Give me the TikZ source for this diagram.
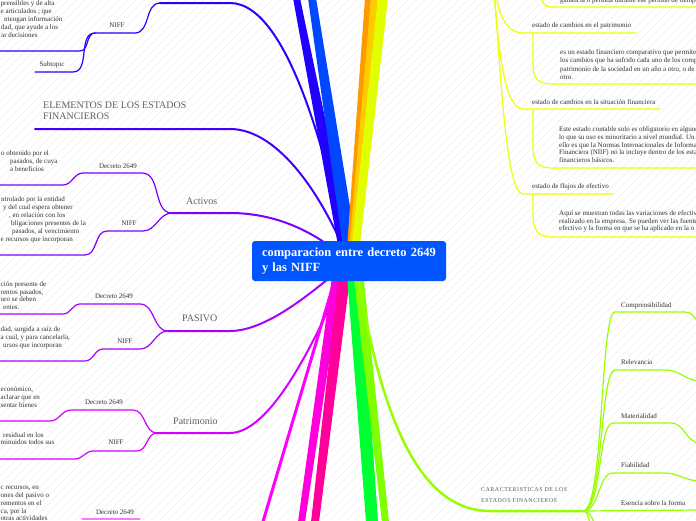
\documentclass[tikz,border=0pt]{standalone}
\usepackage{fontspec}
\setmainfont{Liberation Serif}
\definecolor{cbox}{HTML}{0055FF}
\definecolor{bDark}{HTML}{2200FF}
\definecolor{bBlue}{HTML}{0048FF}
\definecolor{bOrange}{HTML}{FF9900}
\definecolor{bGold}{HTML}{FFCC00}
\definecolor{bYellow}{HTML}{E1FF00}
\definecolor{bTop}{HTML}{2A00FF}
\definecolor{bElem}{HTML}{3F00FF}
\definecolor{bAct}{HTML}{7A00FF}
\definecolor{bPas}{HTML}{AA00FF}
\definecolor{bPat}{HTML}{D400FF}
\definecolor{bMag}{HTML}{FF00FF}
\definecolor{bMagB}{HTML}{FF00DD}
\definecolor{bPink}{HTML}{FF0099}
\definecolor{bGreen}{HTML}{00FF33}
\definecolor{bLime}{HTML}{7FFF00}
\definecolor{bCar}{HTML}{99FF00}
\definecolor{yel}{HTML}{EEFF00}
\definecolor{lpink}{HTML}{F080F8}
\begin{document}
\begin{tikzpicture}[x=1pt,y=-1pt,
  txt/.style={font=\fontsize{7}{8}\selectfont, text=black!80, inner sep=0pt, text height=4.8pt, text depth=1.4pt},
  frag/.style={txt, anchor=west},
  rtxt/.style={txt, anchor=west},
  lbl/.style={txt},
  topic/.style={font=\fontsize{10}{12}\selectfont, text=black!62, inner sep=0pt, anchor=west, text height=7pt, text depth=2pt},
  sub/.style={line width=1.2pt, line cap=round},
  mainln/.style={line width=2pt, line cap=round},
  hatch/.style={black!6, line width=0.5pt}
]
\useasboundingbox (0,0) rectangle (696,520);
\clip (0,0) rectangle (696,520);
\fill[white] (0,0) rectangle (696,520);
\foreach \i in {-520,-511.5,...,700} \draw[hatch] (\i,520) -- ++(520,-520);

\coordinate (hub) at (349,262);
\coordinate (carhub) at (583,511);

% ---------- left curved branches ----------
\coordinate (topL) at (160,3);
\draw[bTop, mainln] (topL) -- (230,3) .. controls (290,3) and (330,170) .. (hub);
\draw[bTop, sub] (topL) to[out=180,in=0] (135,33) -- (95,33) coordinate (nA0);
\draw[bTop, sub] (nA0) to[out=180,in=0] (80,51) -- (-2,51);
\draw[bTop, sub] (nA0) to[out=180,in=0] (73,72) -- (35,72);

\coordinate (elemL) at (35,129);
\draw[bElem, mainln] (elemL) -- (230,129) .. controls (280,129) and (325,200) .. (hub);

\coordinate (act) at (172,213);
\draw[bAct, mainln] (act) -- (230,213) .. controls (280,213) and (320,235) .. (hub);
\draw[bAct, sub] (act) to[out=180,in=0] (142,173) -- (83,173) to[out=180,in=0] (63,185) -- (-2,185);
\draw[bAct, sub] (act) to[out=180,in=0] (143,231) -- (107,231) to[out=180,in=0] (85,255) -- (-2,255);

\coordinate (pas) at (168,331);
\draw[bPas, mainln] (pas) -- (230,331) .. controls (270,331) and (320,285) .. (hub);
\draw[bPas, sub] (pas) to[out=180,in=0] (140,304) -- (80,304) to[out=180,in=0] (63,314) -- (-2,314);
\draw[bPas, sub] (pas) to[out=180,in=0] (140,349) -- (103,349) to[out=180,in=0] (85,361) -- (-2,361);

\coordinate (pat) at (157,433);
\draw[bPat, mainln] (pat) -- (230,433) .. controls (275,433) and (325,320) .. (hub);
\draw[bPat, sub] (pat) to[out=180,in=0] (133,410) -- (71,410) to[out=180,in=0] (50,421) -- (-2,421);
\draw[bPat, sub] (pat) to[out=180,in=0] (137,451) -- (93,451) to[out=180,in=0] (75,459) -- (-2,459);

\draw[lpink, sub] (82,519) -- (140,519);

% ---------- thick branches ----------
\fill[bDark] (293,-2) -- (300,-2) -- (355,262) -- (341,262) -- cycle;
\fill[bBlue] (308,-2) -- (316,-2) -- (359,262) -- (345,262) -- cycle;
\fill[bOrange] (365,-2) -- (371,-2) -- (352,262) -- (346,262) -- cycle;
\fill[bGold] (371,-2) -- (378,-2) -- (354,262) -- (348,262) -- cycle;
\fill[bYellow] (378,-2) -- (388,-2) -- (358,262) -- (350,262) -- cycle;

\draw[bMag, line width=3pt] (340,262) -- (262,525);
\fill[bMagB] (334,262) -- (344,262) -- (305,522) -- (298,522) -- cycle;
\fill[bPink] (340,262) -- (352,262) -- (319,522) -- (311,522) -- cycle;
\fill[bGreen] (346,262) -- (360,262) -- (378,522) -- (366,522) -- cycle;
\fill[bLime] (352,262) -- (362,262) -- (389,522) -- (382,522) -- cycle;

\draw[bCar, line width=2.5pt] (356,262) .. controls (380,420) and (420,511) .. (490,511) -- (carhub);

% ---------- Caracteristicas sub-branches ----------
\draw[bCar, sub] (carhub) .. controls (604,511) and (600,312) .. (615,312) -- (685,312) to[out=0,in=180] (712,335);
\draw[bCar, sub] (carhub) .. controls (603,511) and (600,370) .. (615,370) -- (666,370) to[out=0,in=180] (700,381);
\draw[bCar, sub] (carhub) .. controls (602,511) and (598,423) .. (613,423) -- (671,423) to[out=0,in=180] (700,443);
\draw[bCar, sub] (carhub) .. controls (600,511) and (598,473) .. (613,473) -- (664,473) to[out=0,in=180] (700,481);
\draw[bCar, sub] (carhub) -- (700,510);
\draw[bCar, sub] (carhub) .. controls (595,511) and (592,530) .. (605,540);
\draw[bCar, sub] (carhub) .. controls (592,511) and (588,535) .. (598,560);

% ---------- right yellow items ----------
\coordinate (yOrig) at (492,-40);
\draw[yel, sub] (yOrig) .. controls (495,0) and (500,33) .. (523,33) -- (636,33);
\draw[yel, sub] (yOrig) .. controls (497,40) and (503,109) .. (523,109) -- (660,109);
\draw[yel, sub] (yOrig) .. controls (500,60) and (505,194) .. (523,194) -- (613,194);
\draw[yel, sub] (538,-20) .. controls (540,5) and (545,7) .. (553,7) -- (700,7);
\draw[yel, sub] (533,33) -- (533,62) .. controls (533,80) and (538,84) .. (553,84) -- (700,84);
\draw[yel, sub] (533,109) -- (533,145) .. controls (533,163) and (538,168) .. (553,168) -- (700,168);
\draw[yel, sub] (533,194) -- (533,213) .. controls (533,231) and (538,237) .. (553,237) -- (700,237);

% ---------- centre ----------
\node[fill=cbox, rounded corners=3pt, minimum width=194pt, minimum height=40pt, text width=174pt, inner xsep=10pt, inner ysep=0pt, align=left, text=white, font=\fontsize{12.5}{14.5}\selectfont\bfseries] (center) at (349,261) {comparacion entre decreto 2649\\y las NIFF};

% ---------- texts top-left ----------
\node[frag] (a1) at (0.5,4) {prensibles y de alta};
\node[frag] (a2) at (0.5,12) {e articulados ; que};
\node[frag] (a3) at (4,20) {ntengan información};
\node[frag] (a4) at (1,28) {dad, que ayude a los};
\node[frag] (a5) at (1,36) {ar decisiones};
\node[lbl] (nA) at (117,26) {NIFF};
\node[lbl] (sA) at (52,65) {Subtopic};

\node[topic] (elem1) at (43,106) {ELEMENTOS DE LOS ESTADOS};
\node[topic] (elem2) at (43,117) {FINANCIEROS};

% Activos
\node[topic] (actT) at (186,202) {Activos};
\node[lbl] (actD) at (118,167) {Decreto 2649};
\node[lbl] (actN) at (129,224) {NIFF};
\node[frag] (b1) at (1,154) {o obtenido por el};
\node[frag] (b2) at (10,162) {pasados, de cuya};
\node[frag] (b3) at (10,170) {a beneficios};
\node[frag] (b4) at (1,200) {ntrolado por la entidad};
\node[frag] (b5) at (3,208) {y del cual espera obtener};
\node[frag] (b6) at (9,216) {, en relación con los};
\node[frag] (b7) at (11,224) {bligaciones presentes de la};
\node[frag] (b8) at (12,232) {pasados, al vencimiento};
\node[frag] (b9) at (0.5,240) {e recursos que incorporan};

% PASIVO
\node[topic] (pasT) at (182,319) {PASIVO};
\node[lbl] (pasD) at (114,297) {Decreto 2649};
\node[lbl] (pasN) at (125,342) {NIFF};
\node[frag] (c1) at (0.5,285) {ción presente de};
\node[frag] (c2) at (0.5,293) {rentos pasados,};
\node[frag] (c3) at (0.5,300) {uro se deben};
\node[frag] (c4) at (3,308) {entes.};
\node[frag] (c5) at (0.5,330) {dad, surgida a raíz de};
\node[frag] (c6) at (0.5,338) {a cual, y para cancelarla,};
\node[frag] (c7) at (3,346) {ursos que incorporan};

% Patrimonio
\node[topic] (patT) at (173,422) {Patrimonio};
\node[lbl] (patD) at (104,403) {Decreto 2649};
\node[lbl] (patN) at (116,443) {NIFF};
\node[frag] (d1) at (0.5,390) {económico,};
\node[frag] (d2) at (0.5,398) {aclarar que en};
\node[frag] (d3) at (0.5,406) {sentar bienes};
\node[frag] (d4) at (3,436) {residual en los};
\node[frag] (d5) at (0.5,443) {minuidos todos sus};

% bottom
\node[frag] (e1) at (0.5,488) {c recursos, en};
\node[frag] (e2) at (0.5,496) {ones del pasivo o};
\node[frag] (e3) at (0.5,504) {rementos en el};
\node[frag] (e4) at (0.5,512) {ca, por la};
\node[frag] (e5) at (0.5,519) {otras actividades};
\node[lbl] (eD) at (115,513) {Decreto 2649};

% ---------- right texts ----------
\node[rtxt] (f0) at (560,1) {ganancia o pérdida durante ese período de tiempo};
\node[rtxt] (g1) at (532,26) {estado de cambios en el patrimonio};
\node[rtxt] (g2) at (560,53) {es un estado financiero comparativo que permite};
\node[rtxt] (g3) at (560,61) {los cambios que ha sufrido cada uno de los comp};
\node[rtxt] (g4) at (560,70) {patrimonio de la sociedad en un año a otro, o de};
\node[rtxt] (g5) at (560,78) {otro.};
\node[rtxt] (h1) at (532,103) {estado de cambios en la situación financiera};
\node[rtxt] (h2) at (559,130) {Este estado contable solo es obligatorio en algunos};
\node[rtxt] (h3) at (559,138) {lo que su uso es minoritario a nivel mundial. Un};
\node[rtxt] (h4) at (559,146) {ello es que la Normas Internacionales de Informa};
\node[rtxt] (h5) at (559,153) {Financiera (NIIF) no la incluye dentro de los esta};
\node[rtxt] (h6) at (559,161) {financieros básicos.};
\node[rtxt] (i1) at (532,187) {estado de flujos de efectivo};
\node[rtxt] (i2) at (559,214) {Aquí se muestran todas las variaciones de efectivo};
\node[rtxt] (i3) at (559,222) {realizado en la empresa. Se pueden ver las fuentes};
\node[rtxt] (i4) at (559,229) {efectivo y la forma en que se ha aplicado en la o};

% Caracteristicas
\node[anchor=west, inner sep=0pt, text=black!62, font=\fontsize{6}{7}\selectfont\addfontfeature{LetterSpace=8}] (car1) at (481,490) {CARACTERISTICAS DE LOS};
\node[anchor=west, inner sep=0pt, text=black!62, font=\fontsize{6}{7}\selectfont\addfontfeature{LetterSpace=8}] (car2) at (481,501) {ESTADOS FINANCIEROS};
\node[rtxt] (k1) at (621,306) {Comprensibilidad};
\node[rtxt] (k2) at (621,363) {Relevancia};
\node[rtxt] (k3) at (621,417) {Materialidad};
\node[rtxt] (k4) at (621,466) {Fiabilidad};
\node[rtxt] (k5) at (621,504) {Esencia sobre la forma};
\end{tikzpicture}
\end{document}
